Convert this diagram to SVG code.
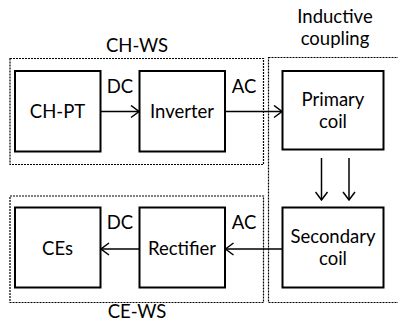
<svg xmlns="http://www.w3.org/2000/svg" width="398" height="323" viewBox="0 0 398 323">
<style>
.box{fill:none;stroke:#000;stroke-width:2}
.grp{fill:none;stroke:#000;stroke-width:1.2;stroke-dasharray:2 1}
.t{font-family:Lato,"Open Sans","Liberation Sans",sans-serif;font-size:18.5px;fill:#000;text-anchor:middle}
.c{fill:none;stroke:#000;stroke-width:1.5}
</style>
<defs>
<marker id="ah" viewBox="0 0 10 14" refX="9" refY="7" markerWidth="10" markerHeight="14" markerUnits="userSpaceOnUse" orient="auto">
<path d="M1,1 L9,7 L1,13" fill="none" stroke="#000" stroke-width="1.5"/>
</marker>
</defs>
<rect fill="#fff" x="0" y="0" width="398" height="323"/>
<g id="ch-ws">
<rect class="grp" x="10" y="58.5" width="253.5" height="106"/>
<text class="t" x="137" y="52">CH-WS</text>
</g>
<g id="ce-ws">
<rect class="grp" x="10" y="196" width="253.5" height="106.5"/>
<text class="t" x="137" y="318">CE-WS</text>
</g>
<g id="inductive-coupling">
<rect class="grp" x="268.5" y="57.5" width="135" height="245"/>
<text class="t" x="335" y="23">Inductive</text>
<text class="t" x="335" y="45">coupling</text>
</g>
<g id="ch-pt">
<rect class="box" x="15" y="71" width="85.5" height="80.5"/>
<text class="t" x="57.5" y="118">CH-PT</text>
</g>
<g id="inverter">
<rect class="box" x="139.5" y="71" width="85.5" height="80.5"/>
<text class="t" x="182" y="118">Inverter</text>
</g>
<g id="primary-coil">
<rect class="box" x="282.5" y="71" width="101" height="78.5"/>
<text class="t" x="333" y="106">Primary</text>
<text class="t" x="333" y="128">coil</text>
</g>
<g id="secondary-coil">
<rect class="box" x="282.5" y="207.5" width="101" height="80"/>
<text class="t" x="333" y="242.5">Secondary</text>
<text class="t" x="333" y="265">coil</text>
</g>
<g id="ces">
<rect class="box" x="15" y="207.5" width="85.5" height="80"/>
<text class="t" x="57.5" y="255">CEs</text>
</g>
<g id="rectifier">
<rect class="box" x="139.5" y="207.5" width="85.5" height="80"/>
<text class="t" x="182" y="255">Rectifier</text>
</g>
<g id="connectors">
<line class="c" x1="100.5" y1="111.5" x2="139" y2="111.5" marker-end="url(#ah)"/>
<line class="c" x1="225" y1="111.5" x2="282" y2="111.5" marker-end="url(#ah)"/>
<line class="c" x1="282.5" y1="249" x2="225.5" y2="249" marker-end="url(#ah)"/>
<line class="c" x1="139.5" y1="249" x2="101" y2="249" marker-end="url(#ah)"/>
<line class="c" x1="321.5" y1="158" x2="321.5" y2="200" marker-end="url(#ah)"/>
<line class="c" x1="349" y1="158" x2="349" y2="200" marker-end="url(#ah)"/>
<text class="t" x="120" y="93">DC</text>
<text class="t" x="244" y="93">AC</text>
<text class="t" x="120" y="228.5">DC</text>
<text class="t" x="244" y="228.5">AC</text>
</g>
</svg>
